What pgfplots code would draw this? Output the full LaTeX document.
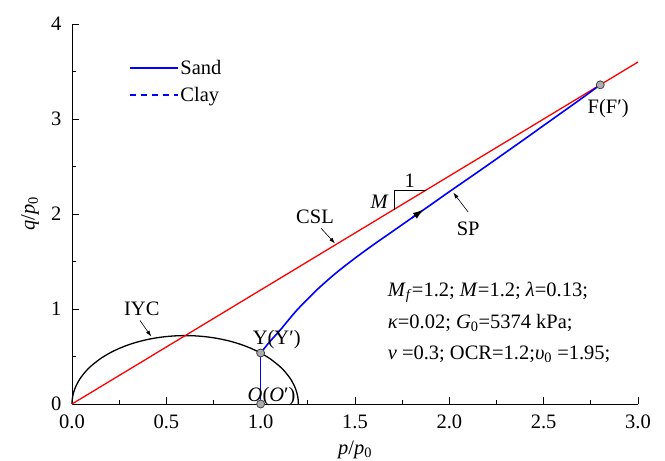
\documentclass[border=0pt]{standalone}
\usepackage{pgfplots}
\pgfplotsset{compat=1.18}
\usepackage{fontspec}
\setmainfont{Liberation Serif}
\usetikzlibrary{arrows.meta}
\begin{document}
\begin{tikzpicture}
\begin{axis}[name=ax, width=566pt, height=380pt, scale only axis, clip=false,
 xmin=0, xmax=3, ymin=0, ymax=4,
 axis x line*=bottom, axis y line*=left, axis line style={line width=0.9pt,-},
 xtick={0,0.5,1,1.5,2,2.5,3}, ytick={0,1,2,3,4},
 minor x tick num=1, minor y tick num=1,
 tick align=inside, major tick length=7pt, minor tick length=4pt,
 every tick/.style={line width=0.8pt, black},
 /pgf/number format/assume math mode=true,
 font=\fontsize{20.5}{24}\selectfont,
 ticklabel style={font=\fontsize{20.5}{24}\selectfont},
 xticklabel style={anchor=center, yshift=-18pt, /pgf/number format/.cd, fixed, fixed zerofill, precision=1},
 yticklabel style={anchor=east, xshift=-7pt, /pgf/number format/.cd, fixed, precision=0},
 xlabel={\textit{p}/\textit{p}\textsubscript{0}},
 ylabel={\textit{q}/\textit{p}\textsubscript{0}},
 xlabel style={at={(axis description cs:0.5,-0.12)}, anchor=center},
 ylabel style={at={(axis description cs:-0.074,0.5)}, anchor=center},
 legend style={at={(axis description cs:0.1,0.91)}, anchor=north west, draw=none, fill=none,
   font=\fontsize{20.5}{24}\selectfont, row sep=7pt, inner sep=0pt},
 legend cell align=left,
 legend image code/.code={\draw[#1] (0pt,0pt) -- (48pt,0pt);},
]
% initial yield curve
\addplot[forget plot, black, line width=1.3pt, smooth] coordinates {
(0,0) (0.001,0.0416) (0.005,0.0928) (0.01,0.1309) (0.02,0.1843) (0.035,0.2423)
(0.05,0.2877) (0.075,0.3486) (0.1,0.398) (0.15,0.4762) (0.2,0.5367) (0.25,0.5848)
(0.3,0.6235) (0.35,0.6545) (0.4,0.6788) (0.45,0.6971) (0.5,0.7099) (0.55,0.7175)
(0.6,0.72) (0.65,0.7175) (0.7,0.7099) (0.75,0.6971) (0.8,0.6788) (0.85,0.6545)
(0.9,0.6235) (0.95,0.5848) (1.0,0.5367) (1.05,0.4762) (1.1,0.398) (1.125,0.3486)
(1.15,0.2877) (1.165,0.2423) (1.18,0.1843) (1.19,0.1309) (1.195,0.0928) (1.199,0.0416) (1.2,0)};
% CSL
\addplot[forget plot, red, line width=1.3pt] coordinates {(0,0) (3,3.6)};
% stress path (sand)
\addplot[forget plot, blue, line width=1.6pt] coordinates {(1,0) (1,0.537)};
\addplot[blue, line width=1.6pt, smooth] coordinates {
(1.0,0.537) (1.05,0.66) (1.1,0.77) (1.15,0.89) (1.2,1.005) (1.3,1.205) (1.4,1.38)
(1.5,1.535) (1.6,1.68) (1.7,1.818) (1.8,1.957) (1.9,2.095) (2.0,2.235) (2.1,2.372)
(2.2,2.51) (2.3,2.65) (2.4,2.79) (2.5,2.932) (2.6,3.073) (2.7,3.215) (2.8,3.36)};
\addlegendentry{Sand}
% points
\addplot[forget plot, only marks, mark=*, mark size=4pt,
  mark options={fill=gray!65, draw=black!75, line width=0.8pt}]
  coordinates {(1,0) (1,0.537) (2.8,3.36)};
\addlegendimage{blue, line width=1.6pt, dash pattern=on 6pt off 5pt}
\addlegendentry{Clay}
% annotations
\draw[blue, line width=1.6pt, -{Latex[length=11pt,width=7pt,black]}] (axis cs:1.80,1.957) -- (axis cs:1.865,2.048);
\node at (axis cs:0.37,1.0) {IYC};
\draw[line width=0.6pt, -{Latex[length=6pt,width=4pt]}] (axis cs:0.36,0.88) -- (axis cs:0.42,0.71);
\node at (axis cs:1.288,1.97) {CSL};
\draw[line width=0.6pt, -{Latex[length=6pt,width=4pt]}] (axis cs:1.32,1.85) -- (axis cs:1.394,1.69);
\draw[line width=0.7pt] (axis cs:1.706,2.047) -- (axis cs:1.706,2.253) -- (axis cs:1.877,2.253);
\node at (axis cs:1.63,2.13) {\textit{M}};
\node at (axis cs:1.79,2.35) {1};
\node at (axis cs:2.10,1.84) {SP};
\draw[line width=0.6pt, -{Latex[length=6pt,width=4pt]}] (axis cs:2.10,2.02) -- (axis cs:2.021,2.225);
\node at (axis cs:2.842,3.11) {F(F′)};
\node at (axis cs:1.085,0.674) {Y(Y′)};
\node at (axis cs:1.058,0.077) {\textit{O}(\textit{O}′)};
\node[anchor=west] at (axis cs:1.655,1.18) {\textit{M}\textsubscript{\textit{f}}=1.2; \textit{M}=1.2; \textit{λ}=0.13;};
\node[anchor=west] at (axis cs:1.655,0.85) {\textit{κ}=0.02; \textit{G}\textsubscript{0}=5374 kPa;};
\node[anchor=west] at (axis cs:1.655,0.52) {\textit{ν} =0.3; OCR=1.2;\textit{υ}\textsubscript{0} =1.95;};
\end{axis}
\pgfresetboundingbox
\path[use as bounding box] ([shift={(-72pt,-56pt)}]ax.south west) rectangle ([shift={(27pt,24pt)}]ax.north east);
\end{tikzpicture}
\end{document}
